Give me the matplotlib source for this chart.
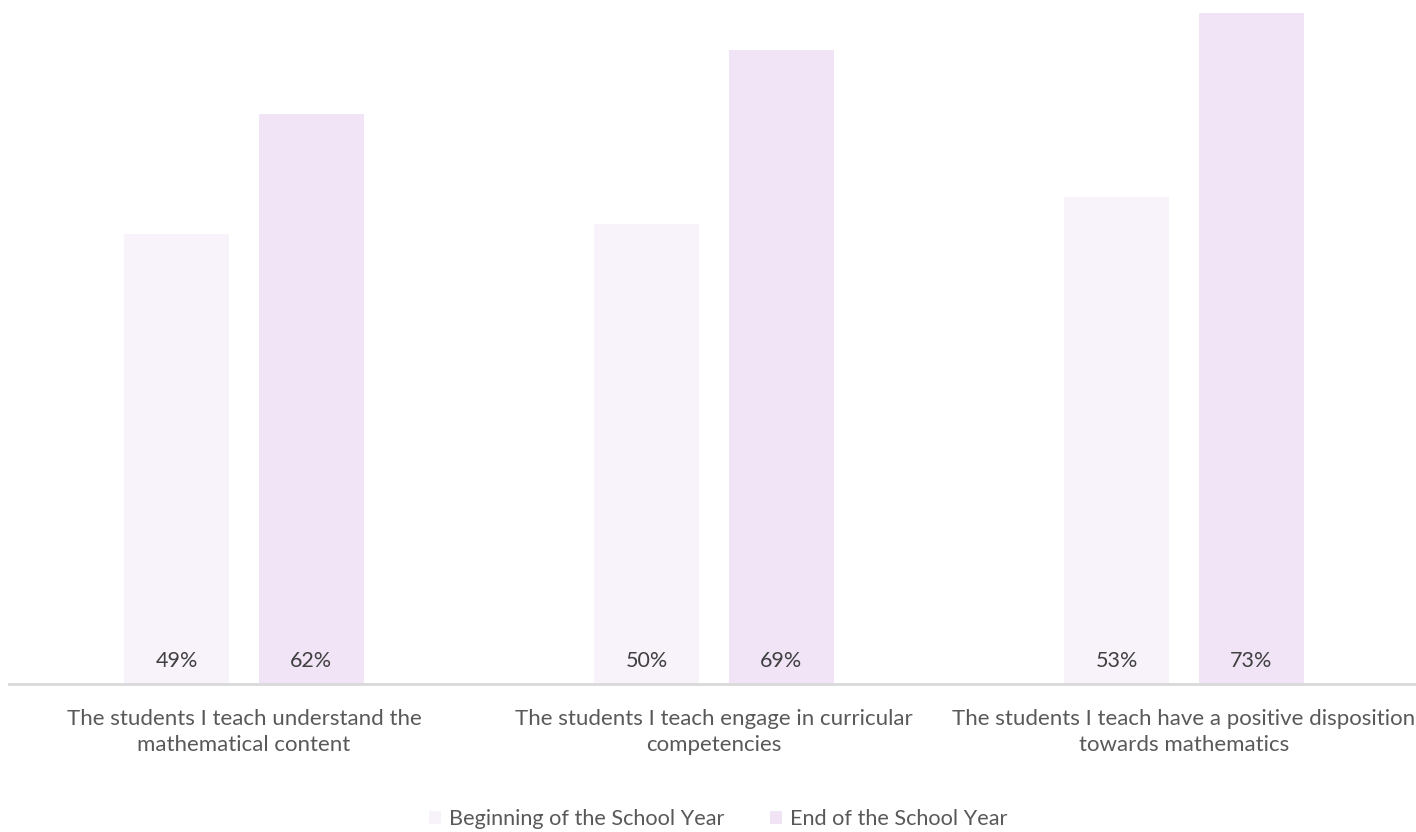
import numpy as np
import matplotlib.pyplot as plt

categories = [
    "The students I teach understand the\nmathematical content",
    "The students I teach engage in curricular\ncompetencies",
    "The students I teach have a positive disposition\ntowards mathematics",
]
series_names = ["Beginning of the School Year", "End of the School Year"]
beginning = [49, 50, 53]
end = [62, 69, 73]

colors = ["#F8F2FA", "#F0E4F6"]
text_color = "#404040"
label_color = "#595959"

plt.rcParams['font.family'] = ['Lato', 'DejaVu Sans']

fig = plt.figure(figsize=(14.16, 8.32), dpi=100)
ax = fig.add_axes([9 / 1416, (832 - 684) / 832, 1410 / 1416, 684 / 832])

x = np.arange(len(categories))
width = 0.2234
offset = 0.1426

bars1 = ax.bar(x - offset, beginning, width, color=colors[0], label=series_names[0])
bars2 = ax.bar(x + offset, end, width, color=colors[1], label=series_names[1])

for bars, vals in [(bars1, beginning), (bars2, end)]:
    for b, v in zip(bars, vals):
        ax.text(b.get_x() + b.get_width() / 2, 2.5, f"{v}%", ha='center', va='center',
                fontsize=15.5, color=text_color)

ax.set_xlim(-0.5, 2.5)
ax.set_ylim(0, 74.4)
ax.set_yticks([])
ax.set_xticks(x)
ax.set_xticklabels(categories, fontsize=16, color=label_color, linespacing=1.4)
ax.tick_params(axis='x', length=0, pad=18)

for s in ['top', 'right', 'left']:
    ax.spines[s].set_visible(False)
ax.spines['bottom'].set_color('#D9D9D9')
ax.spines['bottom'].set_linewidth(2)

fig.legend(handles=[bars1, bars2], labels=series_names, loc='center',
           bbox_to_anchor=(0.507, 1 - 819 / 832), ncol=2, frameon=False, fontsize=15.6,
           handlelength=0.55, handleheight=0.55, handletextpad=0.37, columnspacing=2.1,
           borderpad=0, labelcolor=label_color)

fig.savefig("out.png", dpi=100)
